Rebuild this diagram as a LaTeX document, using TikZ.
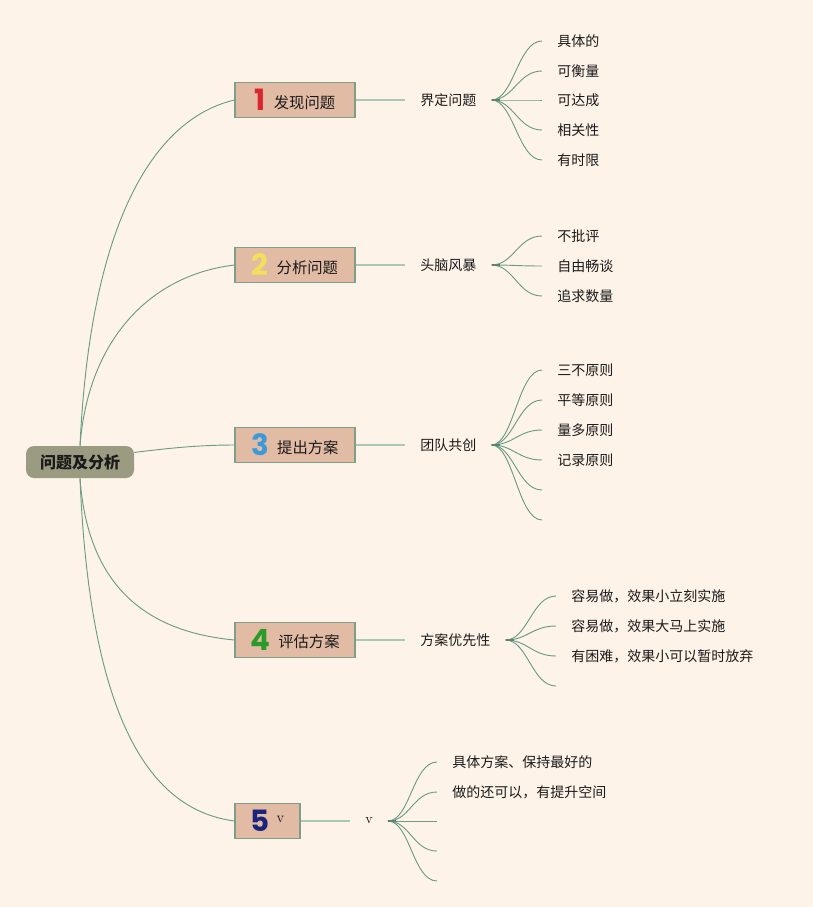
\documentclass[tikz,border=0pt]{standalone}
\usepackage{fontspec}
\newfontfamily\cjk{Noto Sans CJK SC}
\newfontfamily\numfont{Poppins}
\definecolor{bgc}{HTML}{FEF3E9}
\definecolor{boxfill}{HTML}{E2BBA5}
\definecolor{boxline}{HTML}{7E9E8A}
\definecolor{rootfill}{HTML}{9A9B80}
\definecolor{branchc}{HTML}{6B9C86}
\definecolor{subc}{HTML}{A9C8B6}
\definecolor{txt}{HTML}{1A1A1A}
\definecolor{n1}{HTML}{D9262F}
\definecolor{n2}{HTML}{F2E05A}
\definecolor{n3}{HTML}{3A9AD9}
\definecolor{n4}{HTML}{2A9A2A}
\definecolor{n5}{HTML}{1A237E}
\newcommand{\bignum}[2]{{\numfont\bfseries\fontsize{22}{22}\selectfont\color{#2}#1}}
\newcommand{\boxtxt}[1]{\raisebox{2pt}{#1}}
\begin{document}
\begin{tikzpicture}[x=0.75pt,y=-0.75pt,
  rootbox/.style={fill=rootfill, rounded corners=6pt, minimum width=81pt, minimum height=24pt, inner sep=0pt, font=\cjk\bfseries\fontsize{12}{12}\selectfont, text=txt},
  topbox/.style={fill=boxfill, draw=boxline, line width=0.8pt, minimum height=26.25pt, inner sep=0pt, font=\cjk\fontsize{11.5}{11.5}\selectfont, text=txt},
  sub/.style={anchor=west, inner xsep=11.25pt, inner ysep=2pt, font=\cjk\fontsize{10.5}{10.5}\selectfont, text=txt},
  leaf/.style={anchor=west, inner xsep=11.25pt, inner ysep=2pt, font=\cjk\fontsize{10.5}{10.5}\selectfont, text=txt},
  branch/.style={draw=branchc, line width=0.7pt},
  subline/.style={draw=subc, line width=1.8pt},
  fan/.style={draw=branchc, line width=0.7pt},
  stub/.style={draw=branchc!85!black, line width=1.8pt}
]
\fill[bgc] (0,0) rectangle (813,907);
\useasboundingbox (0,0) rectangle (813,907);

% root
\node[rootbox] (root) at (80,462) {问题及分析};

% main boxes
\node[topbox, minimum width=90pt] (b1) at (295,100) {\bignum{1}{n1}\hspace{6pt}\boxtxt{发现问题}};
\node[topbox, minimum width=90pt] (b2) at (295,265) {\bignum{2}{n2}\hspace{6pt}\boxtxt{分析问题}};
\node[topbox, minimum width=90pt] (b3) at (295,445) {\bignum{3}{n3}\hspace{6pt}\boxtxt{提出方案}};
\node[topbox, minimum width=90pt] (b4) at (295,640) {\bignum{4}{n4}\hspace{6pt}\boxtxt{评估方案}};
\node[topbox, minimum width=48.75pt] (b5) at (267.5,821) {\bignum{5}{n5}\hspace{5pt}\raisebox{7pt}{\rmfamily\fontsize{11}{11}\selectfont v}};

% root branches
\draw[branch] (root.north) .. controls (90,230) and (150,120) .. (b1.west);
\draw[branch] (root.north) .. controls (88,340) and (150,275) .. (b2.west);
\draw[branch] (root.10) .. controls (170,448) and (200,445) .. (b3.west);
\draw[branch] (root.south) .. controls (88,590) and (150,632) .. (b4.west);
\draw[branch] (root.south) .. controls (90,720) and (150,810) .. (b5.west);

% sub nodes
\node[sub] (s1) at (405,100) {界定问题};
\node[sub] (s2) at (405,265) {头脑风暴};
\node[sub] (s3) at (405,445) {团队共创};
\node[sub] (s4) at (405,640) {方案优先性};
\node[sub, font=\rmfamily\fontsize{10.5}{10.5}\selectfont] (s5) at (350,821) {v};

\draw[subline] (b1.east) -- (s1.west);
\draw[subline] (b2.east) -- (s2.west);
\draw[subline] (b3.east) -- (s3.west);
\draw[subline] (b4.east) -- (s4.west);
\draw[subline] (b5.east) -- (s5.west);

% leaves 1
\node[leaf] (l1a) at (542,41) {具体的};
\node[leaf] (l1b) at (542,71) {可衡量};
\node[leaf] (l1c) at (542,100) {可达成};
\node[leaf] (l1d) at (542,130) {相关性};
\node[leaf] (l1e) at (542,160) {有时限};
\foreach \l in {l1a,l1b,l1c,l1d,l1e}
  \draw[fan] (s1.east) .. controls +(22,0) and +(-24,0) .. (\l.west);
\draw[stub] (s1.east) -- +(8,0);

% leaves 2
\node[leaf] (l2a) at (542,236) {不批评};
\node[leaf] (l2b) at (542,266) {自由畅谈};
\node[leaf] (l2c) at (542,296) {追求数量};
\foreach \l in {l2a,l2b,l2c}
  \draw[fan] (s2.east) .. controls +(22,0) and +(-24,0) .. (\l.west);
\draw[stub] (s2.east) -- +(8,0);

% leaves 3
\node[leaf] (l3a) at (542,370) {三不原则};
\node[leaf] (l3b) at (542,400) {平等原则};
\node[leaf] (l3c) at (542,430) {量多原则};
\node[leaf] (l3d) at (542,460) {记录原则};
\coordinate (l3e) at (542,490);
\coordinate (l3f) at (542,520);
\foreach \l in {l3a,l3b,l3c,l3d}
  \draw[fan] (s3.east) .. controls +(22,0) and +(-24,0) .. (\l.west);
\foreach \l in {l3e,l3f}
  \draw[fan] (s3.east) .. controls +(22,0) and +(-24,0) .. (\l);
\draw[stub] (s3.east) -- +(8,0);

% leaves 4
\node[leaf] (l4a) at (556,596) {容易做，效果小立刻实施};
\node[leaf] (l4b) at (556,626) {容易做，效果大马上实施};
\node[leaf] (l4c) at (556,656) {有困难，效果小可以暂时放弃};
\coordinate (l4d) at (556,686);
\foreach \l in {l4a,l4b,l4c}
  \draw[fan] (s4.east) .. controls +(22,0) and +(-24,0) .. (\l.west);
\draw[fan] (s4.east) .. controls +(22,0) and +(-24,0) .. (l4d);
\draw[stub] (s4.east) -- +(8,0);

% leaves 5
\node[leaf] (l5a) at (437,762) {具体方案、保持最好的};
\node[leaf] (l5b) at (437,792) {做的还可以，有提升空间};
\coordinate (l5c) at (437,821);
\coordinate (l5d) at (437,851);
\coordinate (l5e) at (437,881);
\foreach \l in {l5a,l5b}
  \draw[fan] (s5.east) .. controls +(22,0) and +(-24,0) .. (\l.west);
\foreach \l in {l5c,l5d,l5e}
  \draw[fan] (s5.east) .. controls +(22,0) and +(-24,0) .. (\l);
\draw[stub] (s5.east) -- +(8,0);
\end{tikzpicture}
\end{document}
